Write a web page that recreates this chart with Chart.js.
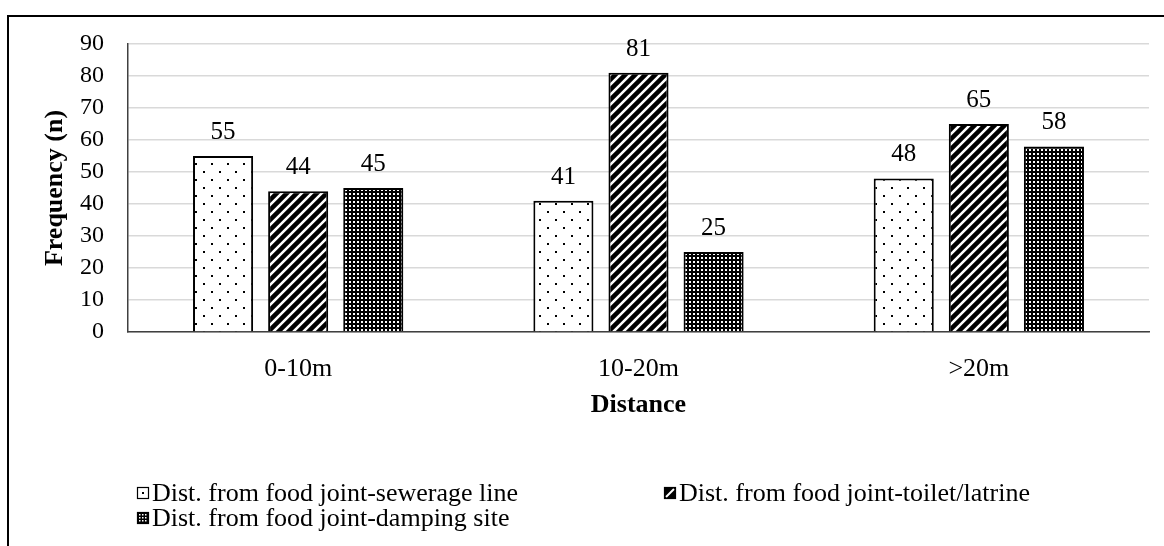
<!DOCTYPE html>
<html lang="en">
<head>
    <meta charset="UTF-8">
    <title>Frequency by distance</title>
    <script src="https://cdn.jsdelivr.net/npm/chart.js"></script>
    <style>
        body {
            margin: 0;
            background: #fff;
        }
        #wrap {
            position: relative;
            width: 1164px;
            height: 546px;
        }
        #frame {
            position: absolute;
            left: 7px;
            top: 15px;
            right: -4px;
            bottom: -4px;
            border-left: 2px solid #000;
            border-top: 2px solid #000;
            pointer-events: none;
        }
    </style>
</head>
<body>

<div id="wrap">
    <canvas id="distChart" width="1164" height="546"></canvas>
    <div id="frame"></div>
</div>

<script>
    const categories = ['0-10m', '10-20m', '>20m'];
    const seriesNames = [
        'Dist. from food joint-sewerage line',
        'Dist. from food joint-toilet/latrine',
        'Dist. from food joint-damping site'
    ];
    const sewerage = [55, 41, 48];
    const toilet = [44, 81, 65];
    const damping = [45, 25, 58];
    const yTicks = [0, 10, 20, 30, 40, 50, 60, 70, 80, 90];

    const serif = "'Liberation Serif', 'Times New Roman', serif";

    // fill patterns for the three series
    function makeTile(w, h, draw) {
        const c = document.createElement('canvas');
        c.width = w;
        c.height = h;
        draw(c.getContext('2d'));
        return c.getContext('2d').createPattern(c, 'repeat');
    }

    const dots = makeTile(16, 16, g => {
        g.fillStyle = '#fff';
        g.fillRect(0, 0, 16, 16);
        g.fillStyle = '#000';
        g.fillRect(3, 3, 2, 2);
        g.fillRect(11, 11, 2, 2);
    });

    const stripes = makeTile(10, 10, g => {
        g.fillStyle = '#fff';
        g.fillRect(0, 0, 10, 10);
        g.strokeStyle = '#000';
        g.lineWidth = 4.5;
        g.beginPath();
        g.moveTo(-5, 5); g.lineTo(5, -5);
        g.moveTo(0, 10); g.lineTo(10, 0);
        g.moveTo(5, 15); g.lineTo(15, 5);
        g.stroke();
    });

    const checks = makeTile(4, 4, g => {
        g.fillStyle = '#000';
        g.fillRect(0, 0, 4, 4);
        g.fillStyle = '#fff';
        g.fillRect(1, 1, 2, 2);
    });

    const fills = [dots, stripes, checks];

    // small legend swatches, simplified versions of the fills
    function drawSwatch(c, i, x, y) {
        const s = 12;
        c.fillStyle = i === 0 ? '#fff' : '#000';
        c.fillRect(x, y, s, s);
        if (i === 0) {
            c.fillStyle = '#000';
            c.fillRect(x + 5, y + 5, 2, 2);
        } else if (i === 1) {
            c.strokeStyle = '#fff';
            c.lineWidth = 2;
            c.beginPath();
            c.moveTo(x + 2, y + s - 2);
            c.lineTo(x + s - 2, y + 2);
            c.stroke();
        } else {
            c.fillStyle = '#fff';
            for (let a = 2; a < s - 1; a += 3) {
                for (let b = 2; b < s - 1; b += 3) {
                    c.fillRect(x + a, y + b, 1.5, 1.5);
                }
            }
        }
        c.strokeStyle = '#000';
        c.lineWidth = 1.2;
        c.strokeRect(x + 0.5, y + 0.5, s - 1, s - 1);
    }

    // value labels above each bar
    const valueLabels = {
        id: 'valueLabels',
        afterDatasetsDraw(chart) {
            const ctx = chart.ctx;
            ctx.save();
            ctx.font = '25px ' + serif;
            ctx.fillStyle = '#000';
            ctx.textAlign = 'center';
            ctx.textBaseline = 'alphabetic';
            chart.data.datasets.forEach((ds, i) => {
                chart.getDatasetMeta(i).data.forEach((bar, j) => {
                    ctx.fillText(ds.data[j], bar.x, bar.y - 17);
                });
            });
            ctx.restore();
        }
    };

    // legend in two columns, left aligned
    const boxLegend = {
        id: 'boxLegend',
        afterDraw(chart) {
            const ctx = chart.ctx;
            const spots = [[137, 493], [664, 493], [137, 518]];
            ctx.save();
            ctx.font = '26px ' + serif;
            ctx.textBaseline = 'middle';
            ctx.textAlign = 'left';
            chart.data.datasets.forEach((ds, i) => {
                const [x, y] = spots[i];
                drawSwatch(ctx, i, x, y - 6);
                ctx.fillStyle = '#000';
                ctx.fillText(ds.label, x + 15, y + 1);
            });
            ctx.restore();
        }
    };

    const ctx = document.getElementById('distChart').getContext('2d');

    new Chart(ctx, {
        type: 'bar',
        data: {
            labels: categories,
            datasets: [
                { label: seriesNames[0], data: sewerage, backgroundColor: dots },
                { label: seriesNames[1], data: toilet, backgroundColor: stripes },
                { label: seriesNames[2], data: damping, backgroundColor: checks }
            ].map(ds => Object.assign(ds, {
                borderColor: '#000',
                borderWidth: 2,
                categoryPercentage: 0.662,
                barPercentage: 0.8
            }))
        },
        options: {
            responsive: false,
            animation: false,
            devicePixelRatio: 1,
            layout: {
                padding: { left: 0, top: 44, right: 15, bottom: 114 }
            },
            plugins: {
                legend: { display: false },
                tooltip: { enabled: false }
            },
            scales: {
                x: {
                    grid: { display: false },
                    border: { color: '#404040', width: 1.5 },
                    ticks: {
                        color: '#000',
                        font: { family: serif, size: 26 },
                        padding: 14
                    },
                    title: {
                        display: true,
                        text: 'Distance',
                        color: '#000',
                        font: { family: serif, size: 26, weight: 'bold', lineHeight: 1.2 },
                        padding: { top: 0, bottom: 11 }
                    },
                    afterFit(scale) { scale.height = 100; }
                },
                y: {
                    min: 0,
                    max: 90,
                    afterBuildTicks(scale) {
                        scale.ticks = yTicks.map(v => ({ value: v }));
                    },
                    grid: { color: '#d9d9d9', lineWidth: 1.5, drawTicks: false },
                    border: { color: '#404040', width: 1.5 },
                    ticks: {
                        color: '#000',
                        font: { family: serif, size: 24 },
                        padding: 24
                    },
                    title: {
                        display: true,
                        text: 'Frequency (n)',
                        color: '#000',
                        font: { family: serif, size: 26, weight: 'bold', lineHeight: 1.2 },
                        padding: { top: 40, bottom: 0 }
                    },
                    afterFit(scale) { scale.width = 128; }
                }
            }
        },
        plugins: [valueLabels, boxLegend]
    });
</script>

</body>
</html>
